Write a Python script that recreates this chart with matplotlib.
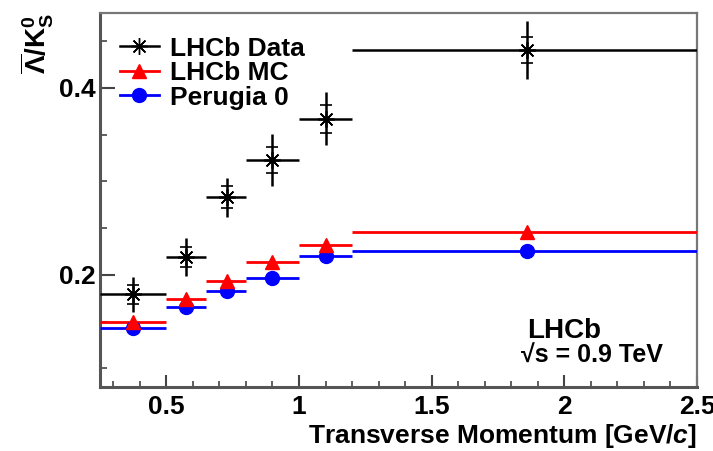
import matplotlib
matplotlib.use('Agg')
import matplotlib.pyplot as plt
from matplotlib.lines import Line2D
from matplotlib.ticker import MultipleLocator
import numpy as np

plt.rcParams['font.family'] = ['Liberation Sans', 'DejaVu Sans']
plt.rcParams['font.weight'] = 'bold'
plt.rcParams['axes.labelweight'] = 'bold'
plt.rcParams['mathtext.fontset'] = 'custom'
plt.rcParams['mathtext.rm'] = 'Liberation Sans:bold'
plt.rcParams['mathtext.bf'] = 'Liberation Sans:bold'
plt.rcParams['mathtext.it'] = 'Liberation Sans:bold:italic'

# bins in pT (GeV/c)
bin_lo = np.array([0.25, 0.50, 0.65, 0.80, 1.00, 1.20])
bin_hi = np.array([0.50, 0.65, 0.80, 1.00, 1.20, 2.50])
pt_mean = np.array([0.375, 0.575, 0.73, 0.90, 1.10, 1.86])

# LHCb data, ratio with total and statistical errors
data_ratio = np.array([0.179, 0.219, 0.283, 0.323, 0.367, 0.440])
data_err = np.array([0.019, 0.020, 0.021, 0.028, 0.028, 0.031])
data_stat = np.array([0.010, 0.011, 0.012, 0.014, 0.015, 0.014])

mc_ratio = np.array([0.150, 0.1745, 0.193, 0.2135, 0.232, 0.246])
perugia_ratio = np.array([0.143, 0.166, 0.183, 0.197, 0.220, 0.225])

xerr = [pt_mean - bin_lo, bin_hi - pt_mean]
star = (8, 2, 0)

fig = plt.figure(figsize=(7.13, 4.51), dpi=100)
ax = fig.add_axes([0.1403, 0.1419, 0.8373, 0.8293])

ax.errorbar(pt_mean, perugia_ratio, xerr=xerr, fmt='o', color='blue',
            ms=10, elinewidth=2, capsize=0, zorder=3)
ax.errorbar(pt_mean, mc_ratio, xerr=xerr, fmt='^', color='red',
            ms=10, elinewidth=2, capsize=0, zorder=3)
ax.errorbar(pt_mean, data_ratio, xerr=xerr, yerr=data_err, fmt='none',
            ecolor='black', elinewidth=1.8, capsize=0, zorder=4)
ax.errorbar(pt_mean, data_ratio, yerr=data_stat, fmt='none', ecolor='black',
            elinewidth=0, capsize=4, capthick=1.2, zorder=5)
ax.plot(pt_mean, data_ratio, linestyle='none', marker=star, color='black',
        ms=12, mew=1.2, zorder=6)

ax.set_xlim(0.25, 2.5)
ax.set_ylim(0.08, 0.48)
ax.xaxis.set_major_locator(MultipleLocator(0.5))
ax.xaxis.set_minor_locator(MultipleLocator(0.1))
ax.yaxis.set_major_locator(MultipleLocator(0.2))
ax.yaxis.set_minor_locator(MultipleLocator(0.05))
ax.xaxis.set_major_formatter(plt.FuncFormatter(lambda v, p: '%g' % v))
ax.yaxis.set_major_formatter(plt.FuncFormatter(lambda v, p: '%g' % v))

ax.tick_params(which='both', direction='in', top=False, right=False,
               labelsize=19, color='#444444')
ax.tick_params(axis='y', which='major', length=11, width=1.5, pad=3)
ax.tick_params(axis='y', which='minor', length=5, width=1.2)
ax.tick_params(axis='x', which='major', length=9, width=1.5, pad=6)
ax.tick_params(axis='x', which='minor', length=4, width=1.2)

for s in ['left', 'bottom']:
    ax.spines[s].set_color('#555555')
    ax.spines[s].set_linewidth(2.2)
for s in ['top', 'right']:
    ax.spines[s].set_color('#777777')
    ax.spines[s].set_linewidth(1.6)

ax.set_xlabel('Transverse Momentum [GeV/$\\mathit{c}$]', fontsize=19,
              fontweight='bold', loc='right', labelpad=2)
ax.set_ylabel('$\\overline{\\mathit{\\Lambda}}/\\mathbf{K}^{0}_{\\mathrm{S}}$',
              fontsize=20, loc='top', labelpad=2)

handles = [
    Line2D([], [], color='black', marker=star, ms=12, lw=1.8),
    Line2D([], [], color='red', marker='^', ms=10, lw=2),
    Line2D([], [], color='blue', marker='o', ms=10, lw=2),
]
ax.legend(handles, ['LHCb Data', 'LHCb MC', 'Perugia 0'], loc='upper left',
          bbox_to_anchor=(0.015, 0.965), frameon=False, fontsize=19,
          handlelength=1.5, handletextpad=0.4, labelspacing=0.02,
          borderaxespad=0)

ax.text(0.715, 0.13, 'LHCb', transform=ax.transAxes, fontsize=20,
        fontweight='bold')
ax.text(0.705, 0.065, '√s = 0.9 TeV', transform=ax.transAxes, fontsize=18,
        fontweight='bold')

fig.savefig('out.png', dpi=100)
